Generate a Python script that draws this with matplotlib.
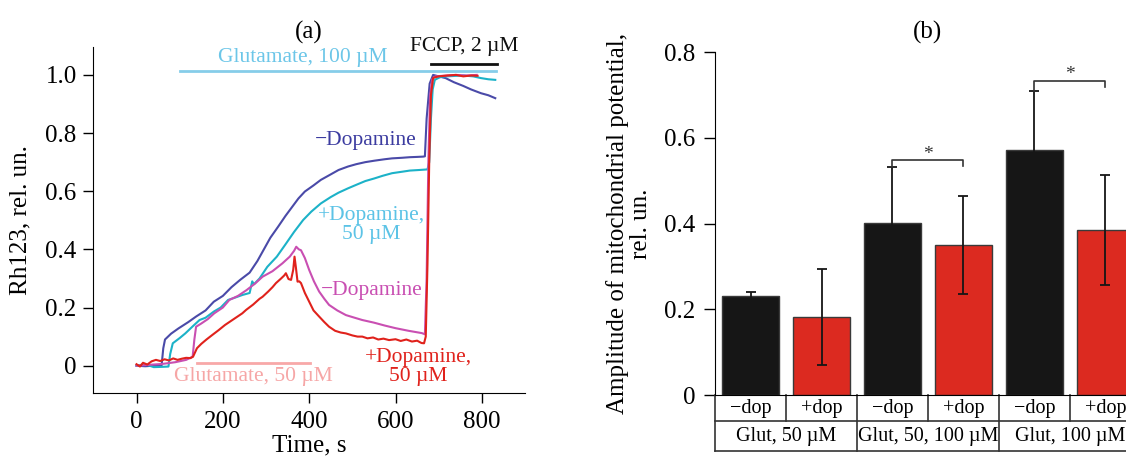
import matplotlib
matplotlib.use('Agg')
import matplotlib.pyplot as plt
import numpy as np

plt.rcParams['font.family'] = ['Liberation Serif', 'DejaVu Serif']

# ---- panel (a): Rh123 traces (time in s, signal in rel. un.) ----
t_blue = [0, 20, 40, 58, 62, 66, 80, 97, 120, 138, 160, 179, 200, 220, 240, 262, 280, 295, 310, 328,
          345, 361, 375, 390, 410, 427, 450, 468, 490, 509, 530, 551, 575, 592, 615, 633, 650, 664, 668, 672,
          679, 687, 700, 716, 735, 757, 775, 798, 815, 831]
y_blue = [0.0, -0.002, 0.0, 0.0, 0.06, 0.09, 0.11, 0.128, 0.15, 0.169, 0.19, 0.22, 0.24, 0.27, 0.295, 0.32, 0.36, 0.40, 0.44, 0.478,
          0.515, 0.547, 0.575, 0.599, 0.62, 0.639, 0.658, 0.673, 0.685, 0.693, 0.70, 0.705, 0.71, 0.713, 0.715, 0.717, 0.718, 0.719, 0.72, 0.85,
          0.97, 1.0, 0.995, 0.989, 0.975, 0.962, 0.95, 0.937, 0.93, 0.92]

t_cyan = [0, 20, 40, 60, 74, 78, 84, 100, 113, 130, 146, 160, 179, 195, 212, 230, 245, 262, 268, 272,
          285, 303, 325, 344, 365, 386, 405, 427, 450, 468, 490, 509, 530, 551, 570, 592, 615, 633, 655, 674,
          678, 682, 686, 691, 700, 707, 730, 757, 780, 798, 815, 831]
y_cyan = [0.0, 0.005, -0.005, -0.004, -0.003, 0.04, 0.077, 0.095, 0.111, 0.135, 0.157, 0.165, 0.186, 0.2, 0.226, 0.235, 0.243, 0.25, 0.29, 0.28,
          0.3, 0.34, 0.375, 0.415, 0.46, 0.501, 0.53, 0.558, 0.58, 0.595, 0.61, 0.622, 0.635, 0.644, 0.653, 0.662, 0.667, 0.671, 0.673, 0.675,
          0.70, 0.85, 0.95, 0.983, 0.99, 0.994, 0.996, 0.998, 0.995, 0.989, 0.985, 0.983]

t_mag = [0, 30, 60, 90, 115, 130, 134, 138, 150, 165, 180, 200, 215, 235, 255, 275, 292, 315, 338, 355,
         365, 370, 376, 381, 390, 400, 411, 423, 435, 446, 465, 485, 505, 523, 550, 575, 600, 630, 661, 668,
         672, 676, 680, 685, 692, 710, 740, 765, 788]
y_mag = [0.0, 0.003, 0.006, 0.012, 0.02, 0.031, 0.09, 0.134, 0.145, 0.16, 0.18, 0.2, 0.226, 0.24, 0.26, 0.283, 0.306, 0.325, 0.352, 0.375,
         0.395, 0.409, 0.4, 0.397, 0.37, 0.329, 0.29, 0.255, 0.23, 0.209, 0.19, 0.174, 0.165, 0.157, 0.148, 0.138, 0.129, 0.12, 0.112, 0.108,
         0.3, 0.7, 0.93, 0.985, 0.995, 0.997, 1.0, 0.998, 1.0]

t_red = [0, 8, 15, 25, 35, 45, 55, 65, 75, 85, 95, 105, 115, 125, 131, 140, 150, 162, 175, 190,
         205, 215, 230, 245, 254, 270, 285, 292, 305, 315, 323, 335, 342, 346, 352, 358, 363, 366, 369, 373,
         377, 381, 390, 400, 410, 423, 435, 446, 460, 473, 485, 500, 512, 523, 535, 548, 560, 572, 585, 600,
         612, 625, 638, 650, 660, 666, 670, 674, 678, 682, 687, 700, 720, 740, 757, 775, 790]
y_red = [0.005, -0.003, 0.01, 0.004, 0.015, 0.02, 0.016, 0.022, 0.018, 0.025, 0.02, 0.024, 0.027, 0.026, 0.031, 0.06, 0.075, 0.09, 0.105, 0.122,
         0.14, 0.15, 0.165, 0.18, 0.192, 0.21, 0.23, 0.237, 0.255, 0.27, 0.284, 0.3, 0.31, 0.318, 0.298, 0.295, 0.33, 0.375, 0.34, 0.289,
         0.29, 0.284, 0.25, 0.22, 0.19, 0.169, 0.15, 0.134, 0.12, 0.114, 0.111, 0.104, 0.1, 0.1, 0.094, 0.097, 0.09, 0.093, 0.088, 0.091,
         0.085, 0.09, 0.083, 0.086, 0.078, 0.077, 0.1, 0.35, 0.7, 0.93, 0.99, 0.995, 0.998, 1.0, 0.995, 0.998, 0.997]

# application periods (s)
glut100_span = [100, 833]
fccp_span = [681, 835]
glut50_span = [140, 402]

# ---- panel (b): amplitudes ----
means = [0.230, 0.183, 0.401, 0.350, 0.572, 0.385]
errs = [0.010, 0.112, 0.130, 0.114, 0.137, 0.128]
sub_labels = ['\u2212dop', '+dop', '\u2212dop', '+dop', '\u2212dop', '+dop']
group_labels = ['Glut, 50 \u00b5M', 'Glut, 50, 100 \u00b5M', 'Glut, 100 \u00b5M']
sig_pairs = [(2, 3), (4, 5)]
sig_heights = [0.547, 0.733]

BLUE = '#4a4aa8'
CYAN = '#1cb2c8'
MAG = '#c94fb2'
RED = '#e0221c'

fig = plt.figure(figsize=(11.26, 4.62), dpi=100)

# ================= (a) =================
ax1 = fig.add_axes([0.0829, 0.1487, 0.3834, 0.7502])
ax1.plot(t_blue, y_blue, color=BLUE, lw=1.5)
ax1.plot(t_cyan, y_cyan, color=CYAN, lw=1.5)
ax1.plot(t_mag, y_mag, color=MAG, lw=1.5)
ax1.plot(t_red, y_red, color=RED, lw=1.5)

ax1.plot(glut100_span, [1.015, 1.015], color='#86cde9', lw=2)
ax1.plot(fccp_span, [1.037, 1.037], color='#111111', lw=2)
ax1.plot(glut50_span, [0.01, 0.01], color='#f8a8a8', lw=2)

fs = 15.5
ax1.text(385, 1.061, 'Glutamate, 100 \u00b5M', color='#6cc6e8', fontsize=fs, ha='center', va='center')
ax1.text(758, 1.097, 'FCCP, 2 \u00b5M', color='#111111', fontsize=fs, ha='center', va='center')
ax1.text(530, 0.776, '\u2212Dopamine', color='#3c3ca0', fontsize=fs, ha='center', va='center')
ax1.text(544, 0.484, '+Dopamine,\n50 \u00b5M', color='#5cc3e6', fontsize=fs, ha='center', va='center',
         linespacing=1.0)
ax1.text(544, 0.26, '\u2212Dopamine', color=MAG, fontsize=fs, ha='center', va='center')
ax1.text(653, -0.005, '+Dopamine,\n50 \u00b5M', color=RED, fontsize=fs, ha='center', va='center',
         linespacing=1.0)
ax1.text(271, -0.038, 'Glutamate, 50 \u00b5M', color='#f6a6a6', fontsize=fs, ha='center', va='center')

ax1.set_xlim(-100, 900)
ax1.set_ylim(-0.095, 1.097)
ax1.set_xticks([0, 200, 400, 600, 800])
ax1.set_yticks([0, 0.2, 0.4, 0.6, 0.8, 1.0])
ax1.set_yticklabels(['0', '0.2', '0.4', '0.6', '0.8', '1.0'])
ax1.spines['top'].set_visible(False)
ax1.spines['right'].set_visible(False)
ax1.tick_params(direction='out', length=7, width=1, labelsize=18)
ax1.tick_params(axis='x', pad=6)
ax1.tick_params(axis='y', pad=5)
ax1.set_xlabel('Time, s', fontsize=18, labelpad=1)
ax1.set_ylabel('Rh123, rel. un.', fontsize=18, labelpad=10)
ax1.set_title('(a)', fontsize=18, pad=6)

# ================= (b) =================
ax2 = fig.add_axes([0.635, 0.145, 0.3783, 0.7424])
x = np.arange(len(means))
colors = ['#161616', '#dc2a20'] * 3
ax2.bar(x, means, width=0.8, color=colors, edgecolor='#3a3a3a', linewidth=1)
ax2.errorbar(x, means, yerr=errs, fmt='none', ecolor='#161616', elinewidth=1.3,
             capsize=3.5, capthick=1.3)

for (i, j), h in zip(sig_pairs, sig_heights):
    ax2.plot([i, i, j, j], [means[i] + errs[i], h, h, h - 0.014], color='#333333', lw=1.2)
    ax2.text((i + j) / 2, h + 0.003, '*', fontsize=14, ha='center', va='baseline', color='#333333')

ax2.set_xlim(-0.5, 5.5)
ax2.set_ylim(0, 0.8)
ax2.set_yticks([0, 0.2, 0.4, 0.6, 0.8])
ax2.set_yticklabels(['0', '0.2', '0.4', '0.6', '0.8'])
ax2.set_xticks([])
ax2.spines['top'].set_visible(False)
ax2.spines['right'].set_visible(False)
ax2.tick_params(axis='y', direction='out', length=8, width=1, labelsize=18, pad=6)
ax2.set_ylabel('Amplitude of mitochondrial potential,\nrel. un.', fontsize=18, labelpad=9,
               linespacing=1.05)
ax2.set_title('(b)', fontsize=18, pad=10)

# category table under the bars
tr = ax2.get_xaxis_transform()
r1, r2 = -26 / 343, -56 / 343
lc = '#333333'
for yy in (r1, r2):
    ax2.plot([-0.5, 5.5], [yy, yy], color=lc, lw=1.2, transform=tr, clip_on=False)
for xx in (-0.5, 1.5, 3.5, 5.5):
    ax2.plot([xx, xx], [0, r2], color=lc, lw=1.2, transform=tr, clip_on=False)
for xx in (0.5, 2.5, 4.5):
    ax2.plot([xx, xx], [0, r1], color=lc, lw=1.2, transform=tr, clip_on=False)
for xi, lab in zip(x, sub_labels):
    ax2.text(xi, r1 / 2, lab, transform=tr, ha='center', va='center', fontsize=14.5)
for k, lab in enumerate(group_labels):
    ax2.text(2 * k + 0.5, (r1 + r2) / 2, lab, transform=tr, ha='center', va='center', fontsize=14.5)

fig.savefig('out.png', dpi=100)
